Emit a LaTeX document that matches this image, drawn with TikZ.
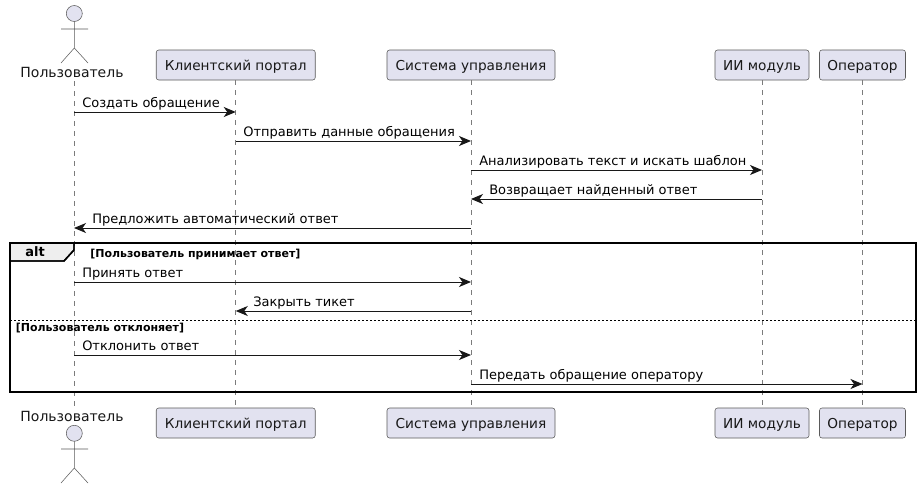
\documentclass[tikz,border=0pt]{standalone}
\usepackage{fontspec}
\setmainfont{DejaVu Sans}
\usetikzlibrary{arrows.meta}
\definecolor{partfill}{HTML}{E2E2F0}
\definecolor{partline}{HTML}{181818}
\definecolor{thinline}{HTML}{5A5A5A}
\definecolor{tabfill}{HTML}{EEEEEE}
\tikzset{
  x=0.75pt,y=-0.75pt,
  part/.style={draw=thinline,fill=partfill,line width=0.4pt,rounded corners=1.9pt,minimum height=22.5pt,inner sep=0pt,text height=9pt,text depth=1.5pt,font=\fontsize{10.25}{12}\selectfont,text=partline},
  actorlabel/.style={inner sep=0pt,font=\fontsize{10.5}{12}\selectfont,text=partline},
  lifeline/.style={draw=thinline!80,line width=0.4pt,dash pattern=on 3.75pt off 3.75pt},
  msg/.style={draw=partline,line width=0.75pt,-{Stealth[length=9pt,width=7.5pt,inset=2.6pt]}},
  msglabel/.style={inner sep=0pt,anchor=base west,font=\fontsize{9.75}{12}\selectfont},
  guard/.style={inner sep=0pt,anchor=base west,font=\fontsize{8.25}{10}\selectfont\bfseries},
  actorline/.style={draw=thinline,line width=0.4pt},
  framebox/.style={draw=black,line width=1.1pt},
}
\begin{document}
\begin{tikzpicture}
\useasboundingbox (0,0) rectangle (921,489);
\fill[white] (0,0) rectangle (921,489);
% participants top
\node[actorlabel] (ut) at (72,72.5) {Пользователь};
\node[part,minimum width=119.25pt] (ct) at (235.75,65) {Клиентский портал};
\node[part,minimum width=126pt] (st) at (471,65) {Система управления};
\node[part,minimum width=70.5pt] (it) at (762,65) {ИИ модуль};
\node[part,minimum width=64.5pt] (ot) at (862.5,65) {Оператор};
% participants bottom
\node[actorlabel] (ub) at (72,416.5) {Пользователь};
\node[part,minimum width=119.25pt] (cb) at (235.75,423) {Клиентский портал};
\node[part,minimum width=126pt] (sb) at (471,423) {Система управления};
\node[part,minimum width=70.5pt] (ib) at (762,423) {ИИ модуль};
\node[part,minimum width=64.5pt] (ob) at (862.5,423) {Оператор};
% lifelines
\coordinate (utl) at (74,81);
\coordinate (ubl) at (74,407);
\draw[lifeline] (utl) -- (ubl);
\draw[lifeline] (ct.south) -- (cb.north);
\draw[lifeline] (st.south) -- (sb.north);
\draw[lifeline] (it.south) -- (ib.north);
\draw[lifeline] (ot.south) -- (ob.north);
% actors
\draw[actorline,fill=partfill] (74.3,13.5) circle (6pt);
\draw[actorline] (74.3,21.5) -- (74.3,48) (61,29) -- (88,29) (61,63) -- (74.3,48) -- (88,63);
\draw[actorline,fill=partfill] (74.3,433.3) circle (6pt);
\draw[actorline] (74.3,441.3) -- (74.3,468) (61,449) -- (88,449) (61,483) -- (74.3,468) -- (88,483);
% frame
\path[framebox,fill=tabfill] (10,243) -- (74,243) -- (74,250) -- (64,261) -- (10,261) -- cycle;
\draw[framebox] (10,243) rectangle (916,392);
\draw[framebox] (74,243) -- (74,250) -- (64,261) -- (10,261);
\node[inner sep=0pt,font=\fontsize{9.75}{12}\selectfont\bfseries] (alt) at (35,252) {alt};
\node[guard] (g1) at (90,257) {[Пользователь принимает ответ]};
\draw[black,line width=0.75pt,dash pattern=on 1.5pt off 1.5pt] (10,320) -- (916,320);
\node[guard] (g2) at (15.5,331) {[Пользователь отклоняет]};
% messages
\draw[msg] (utl |- 0,112) -- (ct |- 0,112);
\node[msglabel] (m1) at (82,107.5) {Создать обращение};
\draw[msg] (ct |- 0,141) -- (st |- 0,141);
\node[msglabel] (m2) at (243,136.5) {Отправить данные обращения};
\draw[msg] (st |- 0,170) -- (it |- 0,170);
\node[msglabel] (m3) at (479,165.5) {Анализировать текст и искать шаблон};
\draw[msg] (it |- 0,199) -- (st |- 0,199);
\node[msglabel] (m4) at (489,194.5) {Возвращает найденный ответ};
\draw[msg] (st |- 0,228) -- (utl |- 0,228);
\node[msglabel] (m5) at (92,223.5) {Предложить автоматический ответ};
\draw[msg] (utl |- 0,282) -- (st |- 0,282);
\node[msglabel] (m6) at (82,277) {Принять ответ};
\draw[msg] (st |- 0,311) -- (ct |- 0,311);
\node[msglabel] (m7) at (253,306) {Закрыть тикет};
\draw[msg] (utl |- 0,355) -- (st |- 0,355);
\node[msglabel] (m8) at (82,350) {Отклонить ответ};
\draw[msg] (st |- 0,384) -- (ot |- 0,384);
\node[msglabel] (m9) at (479,379) {Передать обращение оператору};
\end{tikzpicture}
\end{document}
